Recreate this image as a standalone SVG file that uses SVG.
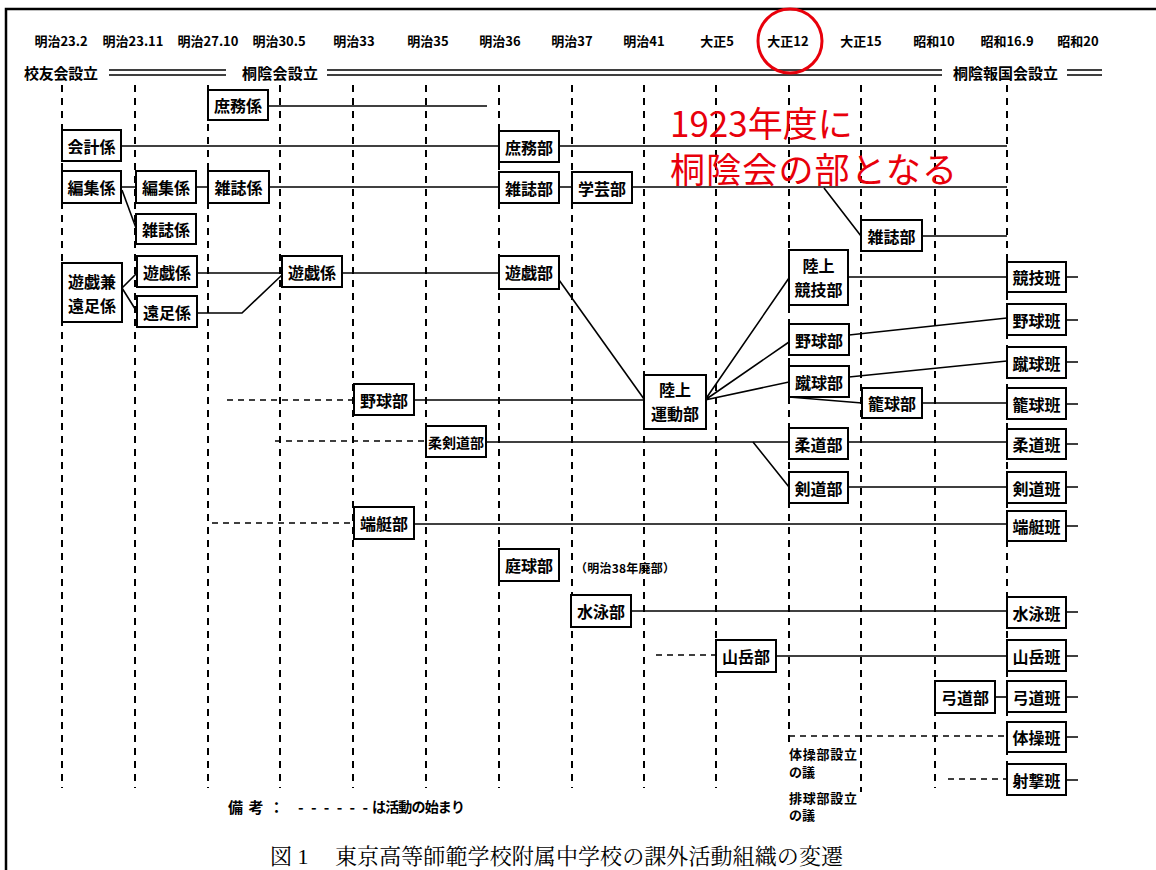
<svg xmlns="http://www.w3.org/2000/svg" width="1156" height="870" viewBox="0 0 1156 870">
<style>
.bg{fill:#fff}
.frame{fill:none;stroke:#000;stroke-width:2.5}
.vl{stroke:#000;stroke-width:2;stroke-dasharray:7 6;fill:none}
.ln{stroke:#000;stroke-width:1.6;fill:none}
.dl{stroke:#000;stroke-width:1.6;fill:none;stroke-dasharray:6 5}
.box{fill:#fff;stroke:#000;stroke-width:2}
.t{font-family:"Noto Sans CJK JP","Noto Sans CJK SC",sans-serif;font-size:16px;font-weight:bold;text-anchor:middle;dominant-baseline:central;fill:#000}
.h{font-family:"Noto Sans CJK JP",sans-serif;font-size:13px;font-weight:bold;text-anchor:middle;dominant-baseline:central;fill:#000}
.h2{font-family:"Noto Sans CJK JP",sans-serif;font-size:15px;font-weight:bold;dominant-baseline:central;fill:#000}
.s{font-family:"Noto Sans CJK JP",sans-serif;font-size:13px;font-weight:bold;dominant-baseline:central;fill:#000}
.red{font-family:"Noto Sans CJK JP",sans-serif;font-size:35px;fill:#e8000b}
.cap{font-family:"Liberation Serif","Noto Serif CJK JP","Noto Sans CJK JP",serif;font-size:22px;fill:#000}
</style>
<rect class="bg" x="0" y="0" width="1156" height="870"/>
<path class="frame" d="M6,870 V9 H1156"/>

<g id="header">
<text class="h" x="61" y="40">明治23.2</text>
<text class="h" x="133" y="40">明治23.11</text>
<text class="h" x="208" y="40">明治27.10</text>
<text class="h" x="279" y="40">明治30.5</text>
<text class="h" x="354" y="40">明治33</text>
<text class="h" x="428" y="40">明治35</text>
<text class="h" x="500" y="40">明治36</text>
<text class="h" x="572" y="40">明治37</text>
<text class="h" x="644" y="40">明治41</text>
<text class="h" x="717" y="40">大正5</text>
<text class="h" x="788" y="40">大正12</text>
<text class="h" x="861" y="40">大正15</text>
<text class="h" x="934" y="40">昭和10</text>
<text class="h" x="1007" y="40">昭和16.9</text>
<text class="h" x="1078" y="40">昭和20</text>
<text class="h2" x="24" y="72" textLength="74">校友会設立</text>
<text class="h2" x="242" y="72" textLength="76">桐陰会設立</text>
<text class="h2" x="953" y="72" textLength="105">桐陰報国会設立</text>
<path class="ln" d="M109,70 H226 M109,75 H226 M327,70 H942 M327,75 H942 M1067,70 H1102 M1067,75 H1102"/>
<circle cx="790" cy="41" r="32" fill="none" stroke="#e8000b" stroke-width="3"/>
</g>

<g id="timelines">
<path class="vl" d="M62,85 V788 M135,85 V788 M208,85 V788 M280,85 V788 M353,85 V788 M426,85 V788 M499,85 V788 M572,85 V788 M644,85 V788 M716,85 V788 M789,85 V792 M861,85 V792 M935,85 V788 M1007,85 V788"/>
</g>

<g id="connectors">
<path class="ln" d="M268,106 H487"/>
<path class="ln" d="M121,146 H1007"/>
<path class="ln" d="M121,187 H1007"/>
<path class="ln" d="M122,190 L136,228"/>
<path class="ln" d="M824,188 L861,236 M922,236 H1007"/>
<path class="ln" d="M122,288 L137,273 M122,288 L137,312"/>
<path class="ln" d="M197,273 H499"/>
<path class="ln" d="M197,313 H242 L282,275"/>
<path class="ln" d="M559,280 L644,399"/>
<path class="dl" d="M227,400 H354"/>
<path class="ln" d="M414,400 H644"/>
<path class="ln" d="M705,400 L789,278 M705,400 L789,342 M705,400 L789,382"/>
<path class="ln" d="M848,277 H1007"/>
<path class="ln" d="M849,335 L1007,318"/>
<path class="ln" d="M849,377 L1007,361"/>
<path class="ln" d="M789,397 L862,403 M922,403 H1007"/>
<path class="dl" d="M275,441 H426"/>
<path class="ln" d="M486,442 H1007"/>
<path class="ln" d="M753,442 L789,487 M848,487 H1007"/>
<path class="dl" d="M212,523 H354"/>
<path class="ln" d="M414,524 H1007"/>
<path class="ln" d="M631,611 H1007"/>
<path class="dl" d="M656,655 H716"/>
<path class="ln" d="M776,656 H1007"/>
<path class="ln" d="M995,697 H1007"/>
<path class="dl" d="M789,736 H1007"/>
<path class="dl" d="M948,779 H1007"/>
<path class="ln" d="M1066,277 H1078 M1066,320 H1078 M1066,362 H1078 M1066,404 H1078 M1066,444 H1078 M1066,487 H1078 M1066,526 H1078 M1066,612 H1078 M1066,656 H1078 M1066,697 H1078 M1066,737 H1078 M1066,780 H1078"/>
</g>

<g id="n-shomu-kakari"><rect class="box" x="208" y="90" width="60" height="30"/><text class="t" x="238" y="105">庶務係</text></g>
<g id="n-kaikei"><rect class="box" x="62" y="130" width="59" height="31"/><text class="t" x="91.5" y="145.5">会計係</text></g>
<g id="n-henshu1"><rect class="box" x="62" y="171" width="59" height="32"/><text class="t" x="91.5" y="187">編集係</text></g>
<g id="n-henshu2"><rect class="box" x="136" y="171" width="60" height="32"/><text class="t" x="166" y="187">編集係</text></g>
<g id="n-zasshi-kakari1"><rect class="box" x="208" y="171" width="61" height="32"/><text class="t" x="238.5" y="187">雑誌係</text></g>
<g id="n-zasshi-kakari2"><rect class="box" x="136" y="214" width="60" height="30"/><text class="t" x="166" y="229">雑誌係</text></g>
<g id="n-yugi-ensoku"><rect class="box" x="62" y="263" width="60" height="59"/><text class="t" x="92" y="281">遊戯兼</text><text class="t" x="92" y="305">遠足係</text></g>
<g id="n-yugi1"><rect class="box" x="137" y="256" width="60" height="31"/><text class="t" x="167" y="271.5">遊戯係</text></g>
<g id="n-ensoku"><rect class="box" x="137" y="296" width="60" height="31"/><text class="t" x="167" y="311.5">遠足係</text></g>
<g id="n-yugi2"><rect class="box" x="282" y="256" width="60" height="31"/><text class="t" x="312" y="271.5">遊戯係</text></g>
<g id="n-shomubu"><rect class="box" x="499" y="131" width="60" height="31"/><text class="t" x="529" y="146.5">庶務部</text></g>
<g id="n-zasshibu1"><rect class="box" x="499" y="172" width="60" height="31"/><text class="t" x="529" y="187.5">雑誌部</text></g>
<g id="n-gakugei"><rect class="box" x="572" y="172" width="60" height="31"/><text class="t" x="602" y="187.5">学芸部</text></g>
<g id="n-zasshibu2"><rect class="box" x="861" y="220" width="61" height="31"/><text class="t" x="891.5" y="235.5">雑誌部</text></g>
<g id="n-yugibu"><rect class="box" x="499" y="256" width="60" height="33"/><text class="t" x="529" y="272">遊戯部</text></g>
<g id="n-yakyubu1"><rect class="box" x="354" y="384" width="60" height="31"/><text class="t" x="384" y="399.5">野球部</text></g>
<g id="n-rikujo-undo"><rect class="box" x="644" y="375" width="62" height="54"/><text class="t" x="675" y="389">陸上</text><text class="t" x="675" y="413">運動部</text></g>
<g id="n-jukendo"><rect class="box" x="426" y="426" width="60" height="31"/><text class="t" x="456" y="441.5" style="font-size:14px">柔剣道部</text></g>
<g id="n-teitei"><rect class="box" x="354" y="507" width="60" height="32"/><text class="t" x="384" y="523">端艇部</text></g>
<g id="n-teikyu"><rect class="box" x="499" y="549" width="60" height="32"/><text class="t" x="529" y="565">庭球部</text></g>
<text class="s" x="575" y="567" style="font-size:12px" textLength="100">（明治38年廃部）</text>
<g id="n-suiei"><rect class="box" x="571" y="595" width="60" height="32"/><text class="t" x="601" y="611">水泳部</text></g>
<g id="n-sangaku"><rect class="box" x="716" y="640" width="60" height="32"/><text class="t" x="746" y="656">山岳部</text></g>
<g id="n-kyudo"><rect class="box" x="935" y="681" width="60" height="32"/><text class="t" x="965" y="697">弓道部</text></g>
<g id="n-rikujo-kyogi"><rect class="box" x="789" y="250" width="59" height="55"/><text class="t" x="818.5" y="265">陸上</text><text class="t" x="818.5" y="289">競技部</text></g>
<g id="n-yakyubu2"><rect class="box" x="789" y="324" width="60" height="31"/><text class="t" x="819" y="339.5">野球部</text></g>
<g id="n-shukyubu"><rect class="box" x="789" y="366" width="60" height="31"/><text class="t" x="819" y="381.5">蹴球部</text></g>
<g id="n-rokyubu"><rect class="box" x="862" y="388" width="60" height="30"/><text class="t" x="892" y="403">籠球部</text></g>
<g id="n-judobu"><rect class="box" x="789" y="428" width="59" height="31"/><text class="t" x="818.5" y="443.5">柔道部</text></g>
<g id="n-kendobu"><rect class="box" x="789" y="472" width="59" height="31"/><text class="t" x="818.5" y="487.5">剣道部</text></g>

<g id="n-kyogihan"><rect class="box" x="1007" y="262" width="59" height="30"/><text class="t" x="1036.5" y="277">競技班</text></g>
<g id="n-yakyuhan"><rect class="box" x="1007" y="304" width="59" height="31"/><text class="t" x="1036.5" y="319.5">野球班</text></g>
<g id="n-shukyuhan"><rect class="box" x="1007" y="347" width="59" height="31"/><text class="t" x="1036.5" y="362.5">蹴球班</text></g>
<g id="n-rokyuhan"><rect class="box" x="1007" y="388" width="59" height="31"/><text class="t" x="1036.5" y="403.5">籠球班</text></g>
<g id="n-judohan"><rect class="box" x="1007" y="429" width="59" height="30"/><text class="t" x="1036.5" y="444">柔道班</text></g>
<g id="n-kendohan"><rect class="box" x="1007" y="472" width="59" height="31"/><text class="t" x="1036.5" y="487.5">剣道班</text></g>
<g id="n-teiteihan"><rect class="box" x="1007" y="511" width="59" height="30"/><text class="t" x="1036.5" y="526">端艇班</text></g>
<g id="n-suieihan"><rect class="box" x="1007" y="597" width="59" height="31"/><text class="t" x="1036.5" y="612.5">水泳班</text></g>
<g id="n-sangakuhan"><rect class="box" x="1007" y="640" width="59" height="31"/><text class="t" x="1036.5" y="655.5">山岳班</text></g>
<g id="n-kyudohan"><rect class="box" x="1007" y="681" width="59" height="31"/><text class="t" x="1036.5" y="696.5">弓道班</text></g>
<g id="n-taisohan"><rect class="box" x="1007" y="722" width="59" height="30"/><text class="t" x="1036.5" y="737">体操班</text></g>
<g id="n-shagekihan"><rect class="box" x="1007" y="764" width="59" height="31"/><text class="t" x="1036.5" y="779.5">射撃班</text></g>

<g id="notes">
<rect x="788" y="744" width="70" height="72" fill="#fff"/>
<text class="s" x="789" y="753" textLength="68">体操部設立</text>
<text class="s" x="789" y="771">の議</text>
<text class="s" x="789" y="797" textLength="68">排球部設立</text>
<text class="s" x="789" y="814">の議</text>
<text class="s" x="228" y="806" style="font-size:15px" textLength="56">備考：</text>
<text class="s" x="298" y="806" style="font-size:15px" textLength="70" lengthAdjust="spacing">------</text>
<text class="s" x="372" y="806" style="font-size:14px" textLength="93">は活動の始まり</text>
<text class="red" x="670" y="137">1923年度に</text>
<text class="red" x="670" y="183" textLength="287">桐陰会の部となる</text>
<text class="cap" x="270" y="864">図 1</text>
<text class="cap" x="335" y="864" textLength="508">東京高等師範学校附属中学校の課外活動組織の変遷</text>
</g>
</svg>
